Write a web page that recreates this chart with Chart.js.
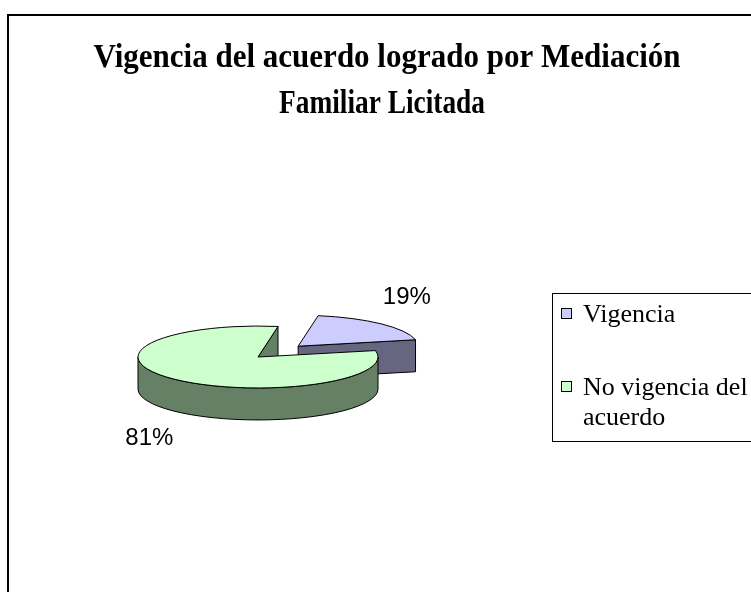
<!DOCTYPE html>
<html>
<head>
<meta charset="utf-8">
<script src="https://cdn.jsdelivr.net/npm/chart.js@4/dist/chart.umd.min.js"></script>
<style>
html,body{margin:0;padding:0;background:#fff;overflow:hidden}
#wrap{width:751px;height:592px;position:relative}
canvas{display:block}
</style>
</head>
<body>
<div id="wrap"><canvas id="c" width="751" height="592"></canvas></div>
<script>
// ---- data ----
const categories = ['Vigencia', 'No vigencia del acuerdo'];
const values = [19, 81];
const titleLines = ['Vigencia del acuerdo logrado por Mediación', 'Familiar Licitada'];

// ---- styles ----
const topColors = ['#CCCCFF', '#CCFFCC'];
const sideColors = ['#666680', '#668066'];
const TILT = 0.258;      // vertical squash of the pie (3D view)
const DEPTH = 32;        // thickness of the pie
const EXPLODE = [58, 0]; // explosion distance per slice
const ROTATION = 9.6;

function geo(arc, cy0) {
  return {
    cx: arc.x,
    cy: cy0 + (arc.y - cy0) * TILT,
    rx: arc.outerRadius,
    ry: arc.outerRadius * TILT,
    s: arc.startAngle,
    e: arc.endAngle
  };
}

const pie3d = {
  id: 'pie3d',
  afterDatasetsUpdate(chart) {
    const meta = chart.getDatasetMeta(0);
    meta.data.forEach((arc, i) => {
      const d = EXPLODE[i] || 0;
      if (!d) return;
      const m = (arc.startAngle + arc.endAngle) / 2;
      arc.x += Math.cos(m) * d;
      arc.y += Math.sin(m) * d;
    });
  },
  beforeDatasetsDraw(chart) {
    const ctx = chart.ctx;
    const ca = chart.chartArea;
    const cy0 = (ca.top + ca.bottom) / 2;
    const meta = chart.getDatasetMeta(0);
    const idx = meta.data.map((a, i) => i).sort((i, j) => geo(meta.data[i], cy0).cy - geo(meta.data[j], cy0).cy);
    ctx.save();
    ctx.lineWidth = 1;
    ctx.strokeStyle = '#000';
    ctx.lineJoin = 'round';
    idx.forEach(i => {
      const g = geo(meta.data[i], cy0);
      ctx.fillStyle = sideColors[i];
      // radial cut faces
      [[g.s, Math.cos(g.s) < 0], [g.e, Math.cos(g.e) > 0]].forEach(([a, vis]) => {
        if (!vis) return;
        const px = g.cx + g.rx * Math.cos(a), py = g.cy + g.ry * Math.sin(a);
        ctx.beginPath();
        ctx.moveTo(g.cx, g.cy);
        ctx.lineTo(px, py);
        ctx.lineTo(px, py + DEPTH);
        ctx.lineTo(g.cx, g.cy + DEPTH);
        ctx.closePath();
        ctx.fill();
        ctx.stroke();
      });
      // outer wall (front half only)
      for (let k = -1; k <= 1; k++) {
        const lo = Math.max(g.s, k * 2 * Math.PI);
        const hi = Math.min(g.e, k * 2 * Math.PI + Math.PI);
        if (hi <= lo) continue;
        ctx.beginPath();
        ctx.ellipse(g.cx, g.cy, g.rx, g.ry, 0, lo, hi);
        ctx.lineTo(g.cx + g.rx * Math.cos(hi), g.cy + g.ry * Math.sin(hi) + DEPTH);
        ctx.ellipse(g.cx, g.cy + DEPTH, g.rx, g.ry, 0, hi, lo, true);
        ctx.closePath();
        ctx.fill();
        ctx.stroke();
      }
    });
    ctx.restore();
    // squash the library's own slice drawing into the tilted plane
    ctx.save();
    ctx.translate(0, cy0);
    ctx.scale(1, TILT);
    ctx.translate(0, -cy0);
  },
  afterDatasetsDraw(chart) {
    const ctx = chart.ctx;
    ctx.restore();
    const ca = chart.chartArea;
    const cy0 = (ca.top + ca.bottom) / 2;
    const meta = chart.getDatasetMeta(0);
    ctx.save();
    ctx.lineWidth = 1;
    ctx.strokeStyle = '#000';
    ctx.lineJoin = 'round';
    meta.data.forEach(arc => {
      const g = geo(arc, cy0);
      ctx.beginPath();
      ctx.moveTo(g.cx, g.cy);
      ctx.ellipse(g.cx, g.cy, g.rx, g.ry, 0, g.s, g.e);
      ctx.closePath();
      ctx.stroke();
    });
    // percentage labels
    const total = values.reduce((a, b) => a + b, 0);
    ctx.fillStyle = '#000';
    ctx.font = '24px "Liberation Sans", Arial, sans-serif';
    ctx.textAlign = 'center';
    ctx.textBaseline = 'middle';
    meta.data.forEach((arc, i) => {
      const g = geo(arc, cy0);
      const m = (g.s + g.e) / 2;
      const lx = g.cx + (g.rx + 37) * Math.cos(m);
      const ly = g.cy + (g.ry + 37) * Math.sin(m) + (Math.sin(m) > 0 ? DEPTH : 0);
      ctx.fillText(Math.round(values[i] / total * 100) + '%', lx, ly);
    });
    ctx.restore();
  },
  afterDraw(chart) {
    const ctx = chart.ctx;
    ctx.save();
    // outer frame
    ctx.strokeStyle = '#000';
    ctx.lineWidth = 2;
    ctx.strokeRect(8, 15, 800, 700);
    // title
    ctx.fillStyle = '#000';
    ctx.font = 'bold 33px "Liberation Serif", "Times New Roman", serif';
    ctx.textBaseline = 'alphabetic';
    ctx.textAlign = 'left';
    const tW = [587, 206], tB = [67, 113], tC = [387, 382];
    titleLines.forEach((t, i) => {
      const w = ctx.measureText(t).width;
      const sx = tW[i] / w;
      ctx.save();
      ctx.translate(tC[i] - tW[i] / 2, tB[i]);
      ctx.scale(sx, 1);
      ctx.fillText(t, 0, 0);
      ctx.restore();
    });
    // legend
    ctx.lineWidth = 1;
    ctx.strokeRect(552.5, 293.5, 300, 148);
    ctx.font = '26px "Liberation Serif", "Times New Roman", serif';
    const maxW = 751 - 583;
    let base = 322;
    categories.forEach((cat, i) => {
      const words = cat.split(' ');
      const lines = [];
      let cur = '';
      words.forEach(w => {
        const test = cur ? cur + ' ' + w : w;
        if (cur && ctx.measureText(test).width > maxW) { lines.push(cur); cur = w; }
        else cur = test;
      });
      if (cur) lines.push(cur);
      ctx.fillStyle = topColors[i];
      ctx.fillRect(561.5, base - 13.5, 10, 10);
      ctx.strokeStyle = '#000';
      ctx.strokeRect(561.5, base - 13.5, 10, 10);
      ctx.fillStyle = '#000';
      lines.forEach((ln, j) => ctx.fillText(ln, 583, base + j * 30));
      base += 73;
    });
    ctx.restore();
  }
};

new Chart(document.getElementById('c'), {
  type: 'pie',
  data: {
    labels: categories,
    datasets: [{
      data: values,
      backgroundColor: topColors,
      borderWidth: 0,
      hoverOffset: 0,
      radius: 120,
      clip: false
    }]
  },
  options: {
    responsive: false,
    animation: false,
    rotation: ROTATION,
    events: [],
    layout: { padding: { left: 0, right: 235, top: 122, bottom: 0 } },
    plugins: {
      legend: { display: false },
      title: { display: false },
      tooltip: { enabled: false }
    }
  },
  plugins: [pie3d]
});
</script>
</body>
</html>
